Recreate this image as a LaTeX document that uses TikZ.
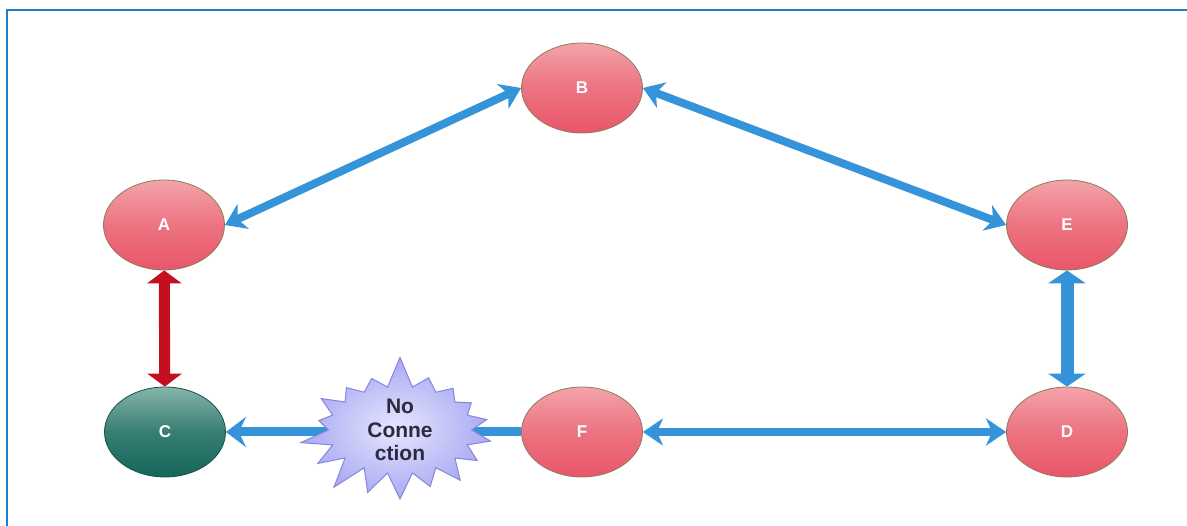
\documentclass[tikz,border=0pt]{standalone}
\usepackage{fontspec}
\setmainfont{Liberation Sans}
\usetikzlibrary{shapes.geometric,shapes.symbols,arrows.meta}

\definecolor{frameblue}{HTML}{1B7FD0}
\definecolor{linkblue}{HTML}{3493D9}
\definecolor{linkred}{HTML}{C4101E}
\definecolor{nodetop}{HTML}{F3A3AA}
\definecolor{nodemid}{HTML}{EC7381}
\definecolor{nodebot}{HTML}{E9566A}
\definecolor{nodeedge}{HTML}{8E7A55}
\definecolor{tealtop}{HTML}{86B5AB}
\definecolor{tealbot}{HTML}{15665A}
\definecolor{starfill}{HTML}{A9A9F2}
\definecolor{starinner}{HTML}{E6E6FF}
\definecolor{staredge}{HTML}{8585DD}
\definecolor{startext}{HTML}{2A2A40}

\tikzset{
  peer/.style={ellipse, minimum width=121pt, minimum height=90pt, inner sep=0pt,
    draw=nodeedge, line width=0.8pt, top color=nodetop, bottom color=nodebot,
    middle color=nodemid, text=white, font=\bfseries\fontsize{17}{20}\selectfont},
  isolated/.style={peer, top color=tealtop, bottom color=tealbot, middle color=tealbot!70!tealtop,
    draw=tealbot!80!black},
  link/.style={draw=linkblue, line width=8pt,
    {Stealth[length=20pt,width=27pt,inset=6pt]}-{Stealth[length=20pt,width=27pt,inset=6pt]}},
  oneway/.style={draw=linkblue, line width=9pt, -{Stealth[length=20pt,width=30pt,inset=7pt]}},
  stublink/.style={draw=linkblue, line width=13pt,
    {Triangle[length=13pt,width=37pt]}-{Triangle[length=13pt,width=37pt]}},
  redlink/.style={draw=linkred, line width=11pt,
    {Triangle[length=13pt,width=34pt]}-{Triangle[length=13pt,width=34pt]}},
  burst/.style={starburst, starburst points=18, starburst point height=32pt,
    random starburst=7, inner xsep=18pt, inner ysep=0pt,
    draw=staredge, line width=1pt, inner color=starinner, outer color=starfill,
    text=startext, align=center, font=\bfseries\fontsize{21}{23.5}\selectfont}
}

\begin{document}
\begin{tikzpicture}[x=1pt,y=-1pt]
\useasboundingbox (0,0) rectangle (1187,526);

% frame
\draw[frameblue, line width=2.5pt] (7,526) -- (7,10) -- (1187,10);

% nodes
\node[peer] (B) at (582,88) {B};
\node[peer] (A) at (164,225) {A};
\node[peer] (E) at (1067,225) {E};
\node[isolated] (C) at (165,432) {C};
\node[peer] (F) at (582,432) {F};
\node[peer] (D) at (1067,432) {D};

% connectors
\draw[link] (A.east) -- (B.west);
\draw[link] (B.east) -- (E.west);
\draw[stublink] (E) -- (D);
\draw[link] (F.east) -- (D.west);
\draw[redlink] (A) -- (C);
\draw[oneway] (F.west) -- (C.east);

% broken link marker
\node[burst] (X) at (400,430) {No\\Conne\\ction};
\end{tikzpicture}
\end{document}
